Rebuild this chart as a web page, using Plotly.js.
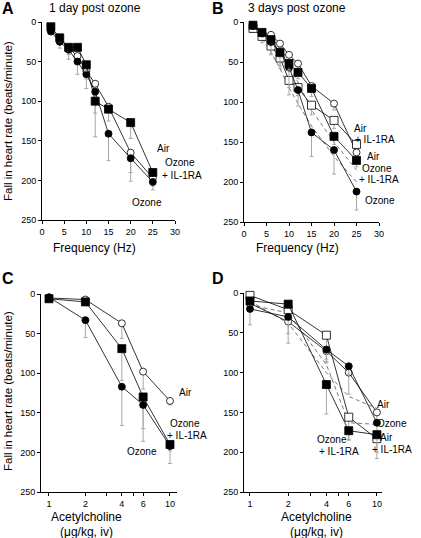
<!DOCTYPE html>
<html><head><meta charset="utf-8">
<script src="https://cdn.plot.ly/plotly-3.0.1.min.js"></script>
<style>html,body{margin:0;padding:0;background:#fff}#g{width:421px;height:538px}</style>
</head><body><div id="g"></div>
<script>
// ---- Panel A: 1 day post ozone (frequency, Hz)
const freqA = [2,4,6,8,10,12,15,20,25];
const A_air = [10,22,33,43,62,78,107,165,197];
const A_air_err = [3,5,8,8,10,8,8,25,10];
const A_ozone = [12,25,35,50,66,88,141,172,202];
const A_ozone_err = [3,8,12,16,18,57,34,29,10];
const A_ozIL = [6,20,32,32,54,100,110,127,190];
const A_ozIL_err = [3,5,5,5,8,15,15,20,5];

// ---- Panel B: 3 days post ozone
const freqB = [2,4,6,8,10,12,15,20,25];
const B_air = [4,14,16,27,41,52,80,102,163];
const B_air_err = [2,3,4,5,6,6,8,8,8];
const B_airIL = [8,18,30,45,73,82,104,123,153];
const B_airIL_err = [5,8,10,10,18,10,12,10,5];
const B_ozone = [5,14,25,38,57,85,138,160,212];
const B_ozone_err = [3,5,16,20,25,20,30,30,23];
const B_ozIL = [4,13,22,38,52,63,83,143,173];
const B_ozIL_err = [3,4,5,6,8,8,10,10,8];
const B_dash1 = [5,15,28,42,57,75,110,150,185];
const B_dash2 = [8,20,38,58,82,102,130,168,200];

// ---- Panel C: acetylcholine, 1 day
const doseC = [1,2,4,6,10];
const C_air = [5,7,37,98,135];
const C_air_err = [2,2,19,22,5];
const C_ozone = [4,33,117,140,192];
const C_ozone_err = [2,22,49,46,22];
const C_ozIL = [6,10,69,130,190];
const C_ozIL_err = [2,3,40,40,8];

// ---- Panel D: acetylcholine, 3 days
const doseD = [1,2,4,6,10];
const D_air = [13,36,73,100,150];
const D_air_err = [5,15,15,27,10];
const D_ozone = [20,30,71,92,163];
const D_ozone_err = [20,33,15,10,10];
const D_airIL = [3,21,53,156,183];
const D_airIL_err = [5,8,30,28,25];
const D_ozIL = [10,14,115,173,178];
const D_ozIL_err = [5,5,37,12,22];
const D_dash1 = [10,38,100,130,145];
const D_dash2 = [15,25,90,163,165];

const yTicks = [0,50,100,150,200,250];
const freqTicks = [0,5,10,15,20,25,30];
const doseTicks = [1,2,3,4,5,6,10];
const doseTickText = ['1','2','','4','','6','10'];

const FONT = 'Liberation Sans, Arial, sans-serif';
const ERRC = '#a8a8a8';

function mk(x, y, err, ax, symbol, filled, size){
  return {
    x: x, y: y, xaxis: 'x'+ax, yaxis: 'y'+ax, type: 'scatter', mode: 'lines+markers',
    line: {color: '#000', width: 0.8},
    marker: {symbol: symbol, size: size, color: filled ? '#000' : '#fff',
             line: {color: '#000', width: 0.8}},
    error_y: {type: 'data', symmetric: false, array: err, arrayminus: err.map(()=>0),
              color: ERRC, thickness: 1, width: 2},
    cliponaxis: false, showlegend: false
  };
}
function dash(x, y, ax){
  return {x: x, y: y, xaxis: 'x'+ax, yaxis: 'y'+ax, type: 'scatter', mode: 'lines',
    line: {color: '#555', width: 0.8, dash: '4px,3px'}, showlegend: false, cliponaxis: false};
}

const data = [
  mk(freqA, A_air, A_air_err, '', 'circle', false, 7),
  mk(freqA, A_ozone, A_ozone_err, '', 'circle', true, 7),
  mk(freqA, A_ozIL, A_ozIL_err, '', 'square', true, 8),

  dash(freqB, B_dash1, '2'), dash(freqB, B_dash2, '2'),
  mk(freqB, B_air, B_air_err, '2', 'circle', false, 7),
  mk(freqB, B_airIL, B_airIL_err, '2', 'square', false, 8),
  mk(freqB, B_ozone, B_ozone_err, '2', 'circle', true, 7),
  mk(freqB, B_ozIL, B_ozIL_err, '2', 'square', true, 8),

  mk(doseC, C_air, C_air_err, '3', 'circle', false, 7),
  mk(doseC, C_ozIL, C_ozIL_err, '3', 'square', true, 8),
  mk(doseC, C_ozone, C_ozone_err, '3', 'circle', true, 7),

  dash(doseD, D_dash1, '4'), dash(doseD, D_dash2, '4'),
  mk(doseD, D_air, D_air_err, '4', 'circle', false, 7),
  mk(doseD, D_airIL, D_airIL_err, '4', 'square', false, 8),
  mk(doseD, D_ozone, D_ozone_err, '4', 'circle', true, 7),
  mk(doseD, D_ozIL, D_ozIL_err, '4', 'square', true, 8)
];
data.forEach(t=>{ if(t.xaxis==='x') {t.xaxis='x'; t.yaxis='y';} });

function P(x){return x/421;}
function Q(y){return 1-y/538;}

function xax(dom, anchor, extra){
  return Object.assign({domain: dom, anchor: anchor, showgrid: false, zeroline: false, showline: true,
    linecolor: '#000', linewidth: 1, ticks: 'outside', ticklen: 3, tickcolor: '#000', tickwidth: 1,
    tickfont: {family: FONT, size: 9, color: '#000'}}, extra);
}
function yax(dom, anchor){
  return {domain: dom, anchor: anchor, range: [250, 0], showgrid: false, zeroline: false, showline: true,
    linecolor: '#000', linewidth: 1, ticks: 'outside', ticklen: 3, tickcolor: '#000', tickwidth: 1,
    tickvals: yTicks, tickfont: {family: FONT, size: 9, color: '#000'}};
}

const layout = {
  width: 421, height: 538, margin: {l:0, r:0, t:0, b:0},
  paper_bgcolor: '#fff', plot_bgcolor: '#fff', showlegend: false,
  font: {family: FONT, color: '#000'},
  xaxis:  xax([P(42), P(175)], 'y', {range: [0,30], tickvals: freqTicks}),
  yaxis:  yax([Q(220), Q(22)], 'x'),
  xaxis2: xax([P(244), P(379)], 'y2', {range: [0,30], tickvals: freqTicks}),
  yaxis2: yax([Q(222), Q(22)], 'x2'),
  xaxis3: xax([P(41), P(177)], 'y3', {type: 'log', range: [-0.066, 1.058], tickvals: doseTicks, ticktext: doseTickText}),
  yaxis3: yax([Q(492), Q(294)], 'x3'),
  xaxis4: xax([P(244), P(382)], 'y4', {type: 'log', range: [-0.047, 1.04], tickvals: doseTicks, ticktext: doseTickText}),
  yaxis4: yax([Q(492), Q(293)], 'x4'),
  annotations: []
};

function ann(text, x, y, size, opts){
  layout.annotations.push(Object.assign({text: text, x: P(x), y: Q(y), xref: 'paper', yref: 'paper',
    showarrow: false, xanchor: 'center', yanchor: 'middle', font: {family: FONT, size: size, color: '#000'}}, opts||{}));
}
// panel letters and titles
ann('<b>A</b>', 8, 8, 16);
ann('<b>B</b>', 218, 8, 16);
ann('<b>C</b>', 8, 278, 16);
ann('<b>D</b>', 218, 278, 16);
ann('1 day post ozone', 95, 8, 12);
ann('3 days post ozone', 297, 8, 12);
// axis titles
ann('Fall in heart rate (beats/minute)', 8, 121, 11.5, {textangle: -90});
ann('Fall in heart rate (beats/minute)', 8, 391, 11.5, {textangle: -90});
ann('Frequency (Hz)', 94, 248, 12);
ann('Frequency (Hz)', 297, 248, 12);
ann('Acetylcholine', 86, 517, 12);
ann('(μg/kg, iv)', 86, 532, 12);
ann('Acetylcholine', 316, 517, 12);
ann('(μg/kg, iv)', 316, 532, 12);
// series labels A
ann('Air', 163, 149, 10);
ann('Ozone', 180, 163, 10);
ann('+ IL-1RA', 182, 175, 10);
ann('Ozone', 147, 202, 10);
// series labels B
ann('Air', 360, 128, 10);
ann('+ IL-1RA', 375, 140, 10);
ann('Air', 373, 156, 10);
ann('Ozone', 377, 168, 10);
ann('+ IL-1RA', 379, 180, 10);
ann('Ozone', 380, 200, 10);
// series labels C
ann('Air', 185, 392, 10);
ann('Ozone', 185, 423, 10);
ann('+ IL-1RA', 187, 435, 10);
ann('Ozone', 142, 451, 10);
// series labels D
ann('Air', 383, 404, 10);
ann('Ozone', 392, 423, 10);
ann('Air', 386, 437, 10);
ann('+ IL-1RA', 392, 449, 10);
ann('Ozone', 332, 439, 10);
ann('+ IL-1RA', 339, 451, 10);

Plotly.newPlot('g', data, layout, {staticPlot: true, displayModeBar: false});
</script></body></html>
